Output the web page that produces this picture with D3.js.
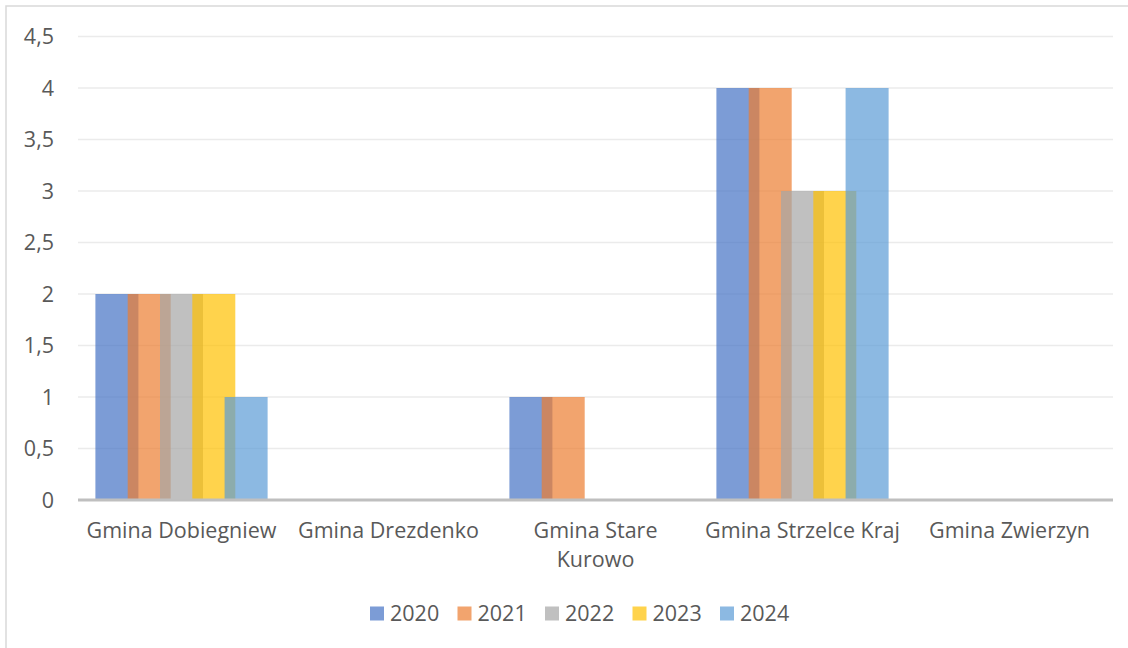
<!DOCTYPE html>
<html>
<head>
<meta charset="utf-8">
<script src="https://cdn.jsdelivr.net/npm/d3@7"></script>
<style>
	body { margin: 0; background: #fff; }
	text { font-family: "Open Sans", sans-serif; fill: #595959; }
</style>
</head>
<body>
<script>
// data
let gminy = 	['Gmina Dobiegniew', 'Gmina Drezdenko', 'Gmina Stare Kurowo', 'Gmina Strzelce Kraj', 'Gmina Zwierzyn']
let years = 	['2020', '2021', '2022', '2023', '2024']
let v2020 = 	[2, 0, 1, 4, 0]
let v2021 = 	[2, 0, 1, 4, 0]
let v2022 = 	[2, 0, 0, 3, 0]
let v2023 = 	[2, 0, 0, 3, 0]
let v2024 = 	[1, 0, 0, 4, 0]
let yTicks = 	[0, 0.5, 1, 1.5, 2, 2.5, 3, 3.5, 4, 4.5]
let colors = 	['#4472C4', '#ED7D31', '#A5A5A5', '#FFC000', '#5B9BD5']

let series = [v2020, v2021, v2022, v2023, v2024]

let W = 1128, H = 648
let x0 = 78, x1 = 1113, y0 = 36.5, y1 = 500
let fs = '21.5px'

let svg = d3.select('body').append('svg')
	.attr('width', W).attr('height', H)

// outer chart frame
svg.append('rect')
	.attr('x', 6).attr('y', 6)
	.attr('width', W + 10).attr('height', H + 10)
	.attr('fill', 'none').style('stroke', '#D9D9D9').attr('stroke-width', 1.5)

let x = d3.scaleBand().domain(gminy).range([x0, x1]).paddingInner(0).paddingOuter(0)
let y = d3.scaleLinear().domain([0, 4.5]).range([y1, y0])
let step = 32.3, barW = 43
let xs = d3.scalePoint().domain(years).range([-2*step, 2*step])

// gridlines
svg.append('g').selectAll('line')
	.data(yTicks.filter(d => d > 0))
	.join('line')
	.attr('x1', x0).attr('x2', x1)
	.attr('y1', d => y(d)).attr('y2', d => y(d))
	.style('stroke', '#EBEBEB').attr('stroke-width', 1.5)

// y labels
let fmt = d => String(d).replace('.', ',')
svg.append('g').selectAll('text')
	.data(yTicks)
	.join('text')
	.attr('x', 54).attr('y', d => y(d))
	.attr('dy', '0.35em')
	.attr('text-anchor', 'end')
	.style('font-size', fs)
	.text(fmt)

// bars
years.forEach(function(yr, s) {
	svg.append('g')
		.attr('fill', colors[s]).attr('fill-opacity', 0.7)
		.selectAll('rect')
		.data(series[s].map((v, i) => ({g: gminy[i], v: v})).filter(d => d.v > 0))
		.join('rect')
		.attr('x', d => x(d.g) + x.bandwidth()/2 + xs(yr) - barW/2)
		.attr('y', d => y(d.v))
		.attr('width', barW)
		.attr('height', d => y(0) - y(d.v))
})

// x axis line
svg.append('line')
	.attr('x1', x0).attr('x2', x1)
	.attr('y1', y1).attr('y2', y1)
	.style('stroke', '#BFBFBF').attr('stroke-width', 3)

// category labels, wrapped to band width
let cat = svg.append('g').selectAll('text')
	.data(gminy)
	.join('text')
	.attr('x', d => x(d) + x.bandwidth()/2)
	.attr('y', 538)
	.attr('text-anchor', 'middle')
	.style('font-size', fs)

cat.each(function(d) {
	let t = d3.select(this)
	let words = d.split(' ')
	let line = []
	let lines = []
	words.forEach(function(w) {
		line.push(w)
		t.text(line.join(' '))
		if (textLen(t) > x.bandwidth() - 6 && line.length > 1) {
			line.pop()
			lines.push(line.join(' '))
			line = [w]
		}
	})
	lines.push(line.join(' '))
	t.text(null)
	lines.forEach((l, i) => {
		t.append('tspan')
			.attr('x', x(d) + x.bandwidth()/2)
			.attr('dy', i == 0 ? 0 : 28.5)
			.text(l)
	})
})
function textLen(t) {
	return t.node().getComputedTextLength()
}

// legend
let leg = svg.append('g').selectAll('g')
	.data(years)
	.join('g')
	.attr('transform', (d, i) => `translate(${370 + i*87.5}, 0)`)
leg.append('rect')
	.attr('x', 0).attr('y', 606.5)
	.attr('width', 14).attr('height', 14)
	.attr('fill', (d, i) => colors[i]).attr('fill-opacity', 0.7)
leg.append('text')
	.attr('x', 20).attr('y', 620.5)
	.style('font-size', fs)
	.text(d => d)
</script>
</body>
</html>
